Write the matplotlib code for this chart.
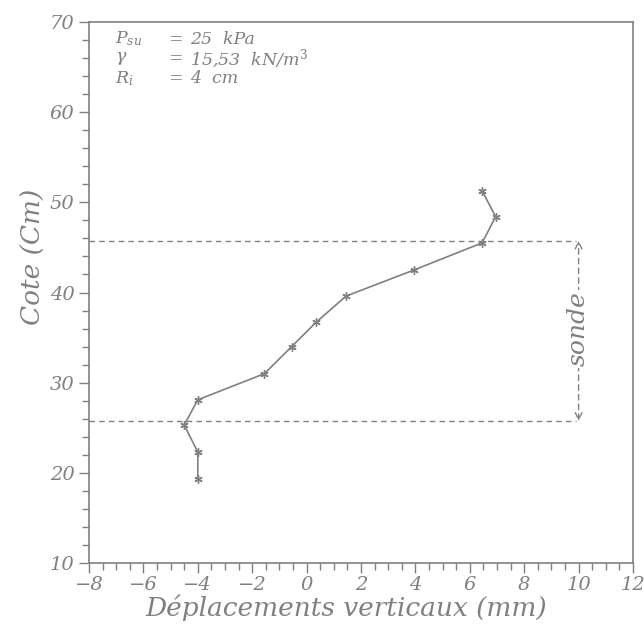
import matplotlib
matplotlib.use("Agg")
import matplotlib.pyplot as plt
from matplotlib.ticker import MultipleLocator

# Data
deplacement = [-4.0, -4.0, -4.5, -4.0, -1.55, -0.55, 0.35, 1.45, 3.95, 6.45, 6.95, 6.45]
cote = [19.3, 22.3, 25.3, 28.1, 31.0, 34.0, 36.7, 39.6, 42.5, 45.5, 48.4, 51.3]
sonde_bas = 25.75
sonde_haut = 45.75
sonde_x = 10.0

grey = "#808080"
fam = "DejaVu Serif"
plt.rcParams['mathtext.fontset'] = 'dejavuserif'

fig = plt.figure(figsize=(6.44, 6.26), dpi=100)
ax = fig.add_axes([89/644, 1 - 563/626, (633-89)/644, (563-22)/626])

ax.plot(deplacement, cote, color=grey, lw=1.2, marker=(6, 2, 0), ms=6, mew=1.0, mec=grey)

ax.hlines([sonde_haut, sonde_bas], -8, sonde_x - 0.1, colors=grey, linestyles=(0, (4, 3)), lw=1.0)
ax.annotate("", xy=(sonde_x, sonde_haut), xytext=(sonde_x, sonde_bas),
            arrowprops=dict(arrowstyle="<->", color=grey, lw=1.0, linestyle=(0, (4, 3)),
                            shrinkA=0, shrinkB=0, mutation_scale=12))
ax.text(sonde_x, (sonde_haut + sonde_bas) / 2 + 0.2, "sonde", rotation=90, ha="center", va="center",
        color=grey, fontsize=18, family=fam, style="italic",
        bbox=dict(facecolor="white", edgecolor="none", pad=1))

ax.set_xlim(-8, 12)
ax.set_ylim(10, 70)
ax.xaxis.set_major_locator(MultipleLocator(2))
ax.xaxis.set_minor_locator(MultipleLocator(0.5))
ax.yaxis.set_major_locator(MultipleLocator(10))
ax.yaxis.set_minor_locator(MultipleLocator(2))
ax.tick_params(which="both", direction="out", colors=grey, labelcolor=grey, width=1.0)
ax.tick_params(which="major", length=7, labelsize=14)
ax.tick_params(axis="x", which="major", pad=2)
ax.tick_params(which="minor", length=5)
for lab in ax.get_xticklabels() + ax.get_yticklabels():
    lab.set_family(fam)
    lab.set_style("italic")
for s in ax.spines.values():
    s.set_color(grey)
    s.set_linewidth(1.2)

ax.set_xlabel("Déplacements verticaux (mm)", family=fam, style="italic", fontsize=19,
              color=grey)
ax.xaxis.set_label_coords(0.472, -0.058)
ax.set_ylabel("Cote (Cm)", family=fam, style="italic", fontsize=19, color=grey)
ax.yaxis.set_label_coords(-0.08, 0.566)

lines = [r"$P_{su}$", r"$\gamma$", r"$R_i$"]
vals = ["25  kPa", r"15,53  kN/m$^3$", "4  cm"]
ys = [68.1, 65.9, 63.7]
for l, v, y in zip(lines, vals, ys):
    ax.text(-7.05, y, l, color=grey, fontsize=12.5, family=fam, style="italic", va="center")
    ax.text(-5.1, y, "=", color=grey, fontsize=12.5, family=fam, va="center")
    ax.text(-4.3, y, v, color=grey, fontsize=12.5, family=fam, style="italic", va="center")

fig.savefig("out.png", dpi=100)
